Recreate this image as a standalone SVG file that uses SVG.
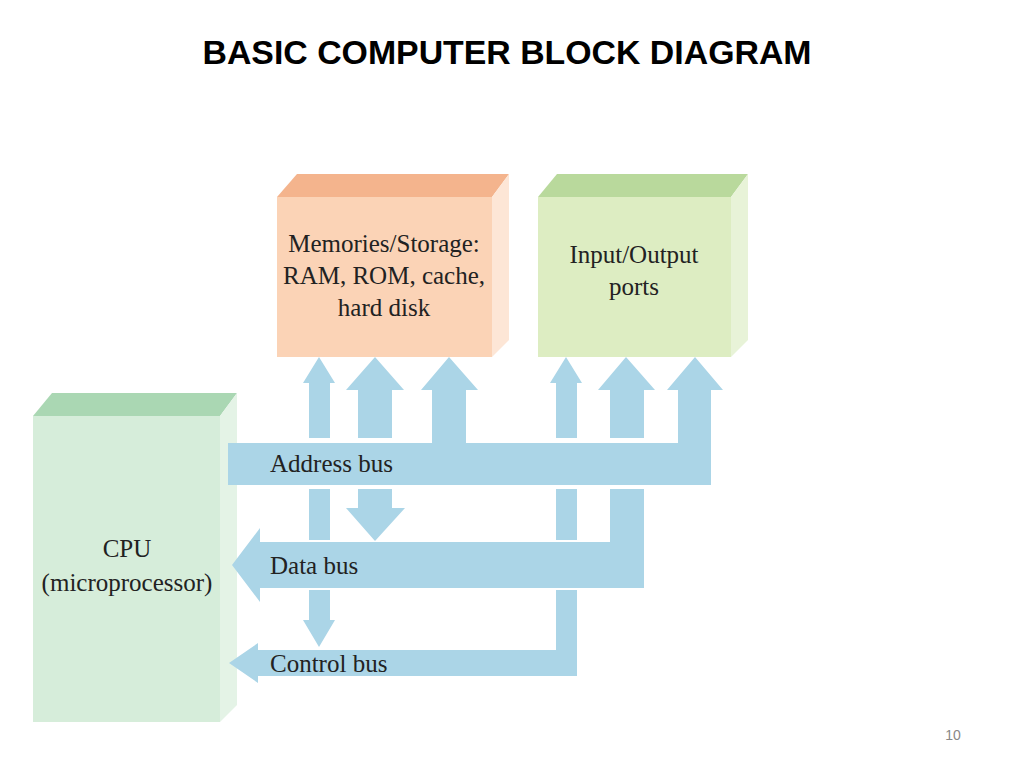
<svg xmlns="http://www.w3.org/2000/svg" width="1024" height="768" viewBox="0 0 1024 768">
<style>
.bus{fill:#abd5e7}
.lbl{font-family:"Liberation Serif",serif;font-size:25px;fill:#222}
.t{font-family:"Liberation Serif",serif;font-size:25px;fill:#222;text-anchor:middle}
</style>
<rect width="1024" height="768" fill="#fff"/>
<text x="507" y="64" text-anchor="middle" font-family="Liberation Sans,Arial,sans-serif" font-weight="bold" font-size="34" textLength="609" lengthAdjust="spacingAndGlyphs">BASIC COMPUTER BLOCK DIAGRAM</text>
<text x="953" y="740" text-anchor="middle" font-family="Liberation Sans,sans-serif" font-size="14" fill="#888">10</text>

<g id="memory">
<polygon points="277,197 297,174 509,174 492,197" fill="#f4b48d"/>
<polygon points="492,197 509,174 509,340 492,357" fill="#fde6d6"/>
<rect x="277" y="197" width="215" height="160" fill="#fbd3b6"/>
<text class="t" x="384" y="252">Memories/Storage:</text>
<text class="t" x="384" y="284">RAM, ROM, cache,</text>
<text class="t" x="384" y="316">hard disk</text>
</g>
<g id="io">
<polygon points="538,197 557,174 748,174 731,197" fill="#b9d99c"/>
<polygon points="731,197 748,174 748,340 731,357" fill="#e8f3d8"/>
<rect x="538" y="197" width="193" height="160" fill="#ddedc2"/>
<text class="t" x="634" y="263">Input/Output</text>
<text class="t" x="634" y="295">ports</text>
</g>
<g id="cpu">
<polygon points="33,416 52,393 237,393 220,416" fill="#aad7b3"/>
<polygon points="220,416 237,393 237,705 220,722" fill="#e4f3e6"/>
<rect x="33" y="416" width="187" height="306" fill="#d6edda"/>
<text class="t" x="127" y="557">CPU</text>
<text class="t" x="127" y="591">(microprocessor)</text>
</g>

<g id="connectors" class="bus">
<!-- address bus -->
<polygon points="228,443 432,443 432,390 421,390 449,357 478,390 466,390 466,443 678,443 678,390 667,390 695,357 723,390 711,390 711,485 228,485"/>
<!-- memory control line -->
<polygon points="309,438 309,383 303,383 319,357 335,383 330,383 330,438"/>
<rect x="309" y="489" width="21" height="51"/>
<polygon points="309,590 330,590 330,620 335,620 319,647 303,620 309,620"/>
<!-- memory data line -->
<polygon points="358,438 358,390 346,390 375,357 404,390 392,390 392,438"/>
<polygon points="358,489 392,489 392,508 405,508 375,541 346,508 358,508"/>
<!-- io control -->
<polygon points="556,438 556,383 550,383 566,357 582,383 577,383 577,438"/>
<rect x="556" y="489" width="21" height="51"/>
<!-- io data -->
<polygon points="610,438 610,390 598,390 626,357 655,390 644,390 644,438"/>
<!-- data bus -->
<polygon points="610,489 644,489 644,588 260,588 260,602 232,565 260,528 260,542 610,542"/>
<!-- control bus -->
<polygon points="556,590 577,590 577,676 258,676 258,683 229,663 258,643 258,650 556,650"/>
</g>
<text class="lbl" x="270" y="472">Address bus</text>
<text class="lbl" x="270" y="574">Data bus</text>
<text class="lbl" x="270" y="672">Control bus</text>
</svg>
